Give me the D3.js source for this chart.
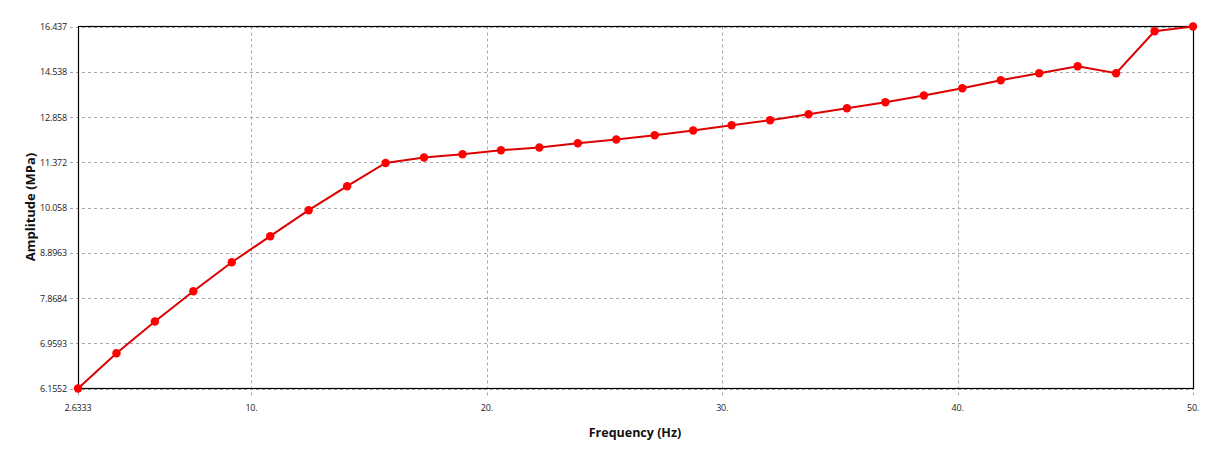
<!DOCTYPE html>
<html>
<head>
<meta charset="utf-8">
<script src="https://cdn.jsdelivr.net/npm/d3@7"></script>
<style>
  body { margin: 0; background: #fff; }
  svg text { font-family: "Open Sans", "DejaVu Sans", sans-serif; }
</style>
</head>
<body>
<div class="chart"></div>
<script>
var w = 1214;
var h = 452;

// frequency (Hz) and amplitude (MPa)
var freq = [2.6333, 4.2667, 5.9, 7.5333, 9.1667, 10.8, 12.433, 14.067, 15.7, 17.333,
            18.967, 20.6, 22.233, 23.867, 25.5, 27.133, 28.767, 30.4, 32.033, 33.667,
            35.3, 36.933, 38.567, 40.2, 41.833, 43.467, 45.1, 46.733, 48.367, 50];
var amp = [6.1552, 6.774, 7.383, 8.015, 8.671, 9.305, 9.985, 10.657, 11.35, 11.52,
           11.623, 11.75, 11.837, 11.975, 12.096, 12.238, 12.395, 12.575, 12.746, 12.952,
           13.168, 13.384, 13.63, 13.903, 14.208, 14.48, 14.758, 14.48, 16.228, 16.437];

var xTicks = [2.6333, 10, 20, 30, 40, 50];
var xTickLabels = ["2.6333", "10.", "20.", "30.", "40.", "50."];
var yTicks = [6.1552, 6.9593, 7.8684, 8.8963, 10.058, 11.372, 12.858, 14.538, 16.437];

var pLeft = 78, pRight = 1193, pTop = 26.5, pBottom = 388.5;

var xScale = d3.scaleLinear()
               .domain([2.6333, 50])
               .range([pLeft, pRight]);

var yScale = d3.scaleLog()
               .domain([6.1552, 16.437])
               .range([pBottom, pTop]);

var svg = d3.select(".chart")
            .append("svg")
            .attr("width", w)
            .attr("height", h);

// grid lines (dashed, run a little outside the frame like tick marks)
svg.selectAll("line.gy")
    .data(yTicks)
    .enter()
    .append("line")
    .attr("class", "gy")
    .attr("x1", pLeft - 8)
    .attr("x2", pRight)
    .attr("y1", function (d) { return Math.round(yScale(d)) + 0.5; })
    .attr("y2", function (d) { return Math.round(yScale(d)) + 0.5; })
    .attr("stroke", "#a8a8a8")
    .attr("stroke-dasharray", "3,3");

svg.selectAll("line.gx")
    .data(xTicks)
    .enter()
    .append("line")
    .attr("class", "gx")
    .attr("x1", function (d) { return Math.round(xScale(d)) + 0.5; })
    .attr("x2", function (d) { return Math.round(xScale(d)) + 0.5; })
    .attr("y1", pTop)
    .attr("y2", pBottom + 8)
    .attr("stroke", "#a8a8a8")
    .attr("stroke-dasharray", "3,3");

// frame
svg.append("rect")
    .attr("x", pLeft + 0.5)
    .attr("y", pTop)
    .attr("width", pRight - pLeft)
    .attr("height", pBottom - pTop)
    .attr("fill", "none")
    .attr("stroke", "#000")
    .attr("stroke-width", 1.2);

// y tick labels
svg.selectAll("text.ty")
    .data(yTicks)
    .enter()
    .append("text")
    .attr("class", "ty")
    .text(function (d) { return d; })
    .attr("text-anchor", "end")
    .attr("x", pLeft - 11)
    .attr("y", function (d) { return yScale(d) + 3.5; })
    .attr("font-size", "9px")
    .attr("letter-spacing", "-0.2px")
    .attr("fill", "#222");

// x tick labels
svg.selectAll("text.tx")
    .data(xTicks)
    .enter()
    .append("text")
    .attr("class", "tx")
    .text(function (d, i) { return xTickLabels[i]; })
    .attr("text-anchor", "middle")
    .attr("x", function (d) { return xScale(d); })
    .attr("y", pBottom + 22)
    .attr("font-size", "9px")
    .attr("letter-spacing", "-0.2px")
    .attr("fill", "#222");

// axis titles
svg.append("text")
    .text("Frequency (Hz)")
    .attr("text-anchor", "middle")
    .attr("x", 635)
    .attr("y", 437)
    .attr("font-size", "12.5px")
    .attr("font-weight", "bold")
    .attr("fill", "#111");

svg.append("text")
    .text("Amplitude (MPa)")
    .attr("text-anchor", "middle")
    .attr("transform", "translate(35,207) rotate(-90)")
    .attr("font-size", "13px")
    .attr("font-weight", "bold")
    .attr("fill", "#111");

var points = freq.map(function (f, i) { return [f, amp[i]]; });

var line = d3.line()
    .x(function (d) { return xScale(d[0]); })
    .y(function (d) { return yScale(d[1]); });

svg.append("path")
    .datum(points)
    .attr("d", line)
    .attr("fill", "none")
    .attr("stroke", "#dd0000")
    .attr("stroke-width", 2);

svg.selectAll("circle")
    .data(points)
    .enter()
    .append("circle")
    .attr("cx", function (d) { return xScale(d[0]); })
    .attr("cy", function (d) { return yScale(d[1]); })
    .attr("r", 4.2)
    .attr("fill", "#ff0000");
</script>
</body>
</html>
